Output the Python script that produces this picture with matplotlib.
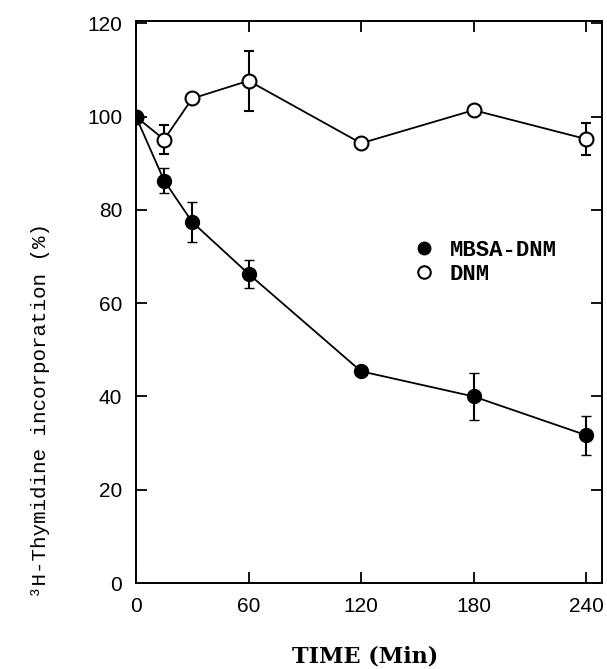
import matplotlib
matplotlib.use("Agg")
import matplotlib.pyplot as plt
from matplotlib.lines import Line2D

# time points (min)
time = [0, 15, 30, 60, 120, 180, 240]

# MBSA-DNM
mbsa = [100, 86.3, 77.4, 66.3, 45.4, 40.0, 31.7]
mbsa_err = [0, 2.7, 4.2, 3.0, 0, 5.0, 4.2]

# free DNM
dnm = [100, 95.1, 103.9, 107.7, 94.3, 101.4, 95.2]
dnm_err = [0, 3.2, 0, 6.4, 0, 0, 3.4]

xticks = [0, 60, 120, 180, 240]
yticks = [0, 20, 40, 60, 80, 100, 120]

fig = plt.figure(figsize=(6.07, 6.69), dpi=100)
ax = fig.add_axes([0.224, 0.1285, 0.768, 0.840])

ax.errorbar(time, dnm, yerr=dnm_err, color="black", lw=1.3, marker="o",
            ms=10, mfc="white", mec="black", mew=1.5, capsize=3.5,
            elinewidth=1.5, capthick=1.5, zorder=2)
ax.errorbar(time, mbsa, yerr=mbsa_err, color="black", lw=1.3, marker="o",
            ms=10, mfc="black", mec="black", mew=1.0, capsize=3.5,
            elinewidth=1.5, capthick=1.5, zorder=3)

ax.set_xlim(0, 248.5)
ax.set_ylim(0, 120.5)
ax.set_xticks(xticks)
ax.set_yticks(yticks)
ax.tick_params(direction="in", length=8, width=1.3, top=True, right=True,
               pad=10, labelsize=15)
for lab in ax.get_xticklabels() + ax.get_yticklabels():
    lab.set_family("Liberation Sans")
for s in ax.spines.values():
    s.set_linewidth(1.4)

# legend
handles = [
    Line2D([], [], ls="none", marker="o", ms=9, mfc="black", mec="black"),
    Line2D([], [], ls="none", marker="o", ms=9, mfc="white", mec="black", mew=1.5),
]
ax.legend(handles, ["MBSA-DNM", "DNM"], loc="upper left",
          bbox_to_anchor=(0.58, 0.627), frameon=False, handlelength=0.8,
          handletextpad=0.75, labelspacing=0.15, borderaxespad=0,
          prop={"family": "Liberation Mono", "weight": "bold", "size": 16})

fig.text(0.066, 1 - 411 / 669, "³H-Thymidine incorporation (%)", rotation=90,
         ha="center", va="center", family="Liberation Mono", fontsize=15)
fig.text(365 / 607, 1 - 657 / 669, "TIME (Min)", ha="center", va="center",
         family="DejaVu Serif", weight="bold", fontsize=16)

fig.savefig("out.png", dpi=100)
